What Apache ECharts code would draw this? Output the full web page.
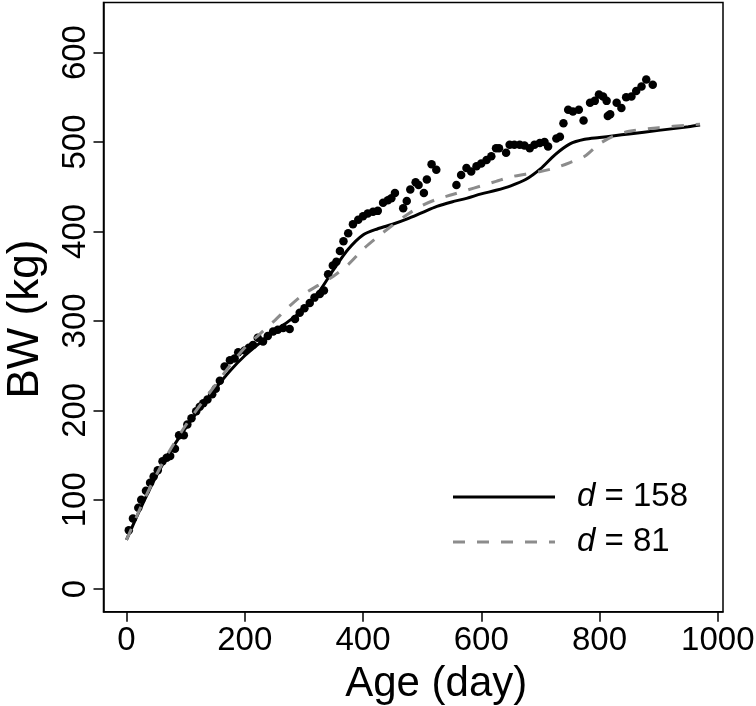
<!DOCTYPE html>
<html>
<head>
<meta charset="utf-8">
<script src="https://cdn.jsdelivr.net/npm/echarts@6/dist/echarts.min.js"></script>
<style>
html,body{margin:0;padding:0;background:#fff;}
#chart{width:756px;height:706px;}
</style>
</head>
<body>
<div id="chart"></div>
<script>
// Observed body weight points
const ageDays = [4,11,20,25,33,40,46,53,61,68,74,82,89,97,103,110,118,124,130,137,145,151,158,166,175,183,189,200,207,214,222,231,239,248,256,265,276,285,293,301,310,318,327,334,341,349,355,361,367,375,383,392,400,408,417,425,434,442,448,454,468,474,480,489,494,503,508,516,524,558,566,575,583,592,600,609,617,625,630,642,648,656,665,673,682,690,699,707,713,727,733,739,747,755,765,773,784,792,799,806,812,814,818,829,837,845,854,862,871,879,890];
const bw =      [66,79,91,100,110,119,126,133,143,147,149,157,172,172,184,191,199,204,208,212,218,224,233,249,256,258,265,267,270,273,281,277,283,288,290,292,291,302,309,314,320,326,330,334,352,362,366,378,389,398,408,413,417,420,422,423,432,435,437,443,426,434,447,455,452,443,458,475,469,452,463,471,467,473,476,480,484,493,493,488,497,497,497,496,493,497,499,500,495,504,506,521,536,534,536,524,544,546,553,551,546,529,531,544,538,550,551,557,562,570,564];
// Fitted curves
const curveAge = [0,10,25,50,75,100,125,150,175,200,225,250,275,300,325,350,375,400,425,450,475,500,525,550,575,600,625,650,675,700,725,750,775,800,825,850,900,950,970];
const fitD158 = [55,70,92,126,155,180,203,224,244,261,275,288,300,313,332,357,380,396,403,408,414,421,428,433,437,442,446,451,458,470,486,498,503,505,507,509,513,517,519];
const fitD81 =  [55,70,93,127,157,183,206,228,250,270,285,300,316,330,340,350,363,380,394,407,419,429,436,441,446,451,456,461,464,467,471,477,484,498,507,512,516,519,520];
const xTicks = [0,200,400,600,800,1000];
const yTicks = [0,100,200,300,400,500,600];
const legendNames = ['d = 158','d = 81'];

const zip = (a,b)=>a.map((v,i)=>[v,b[i]]);
const FONT = '"Liberation Sans", Arial, sans-serif';

const chart = echarts.init(document.getElementById('chart'), null, {renderer:'canvas'});
chart.setOption({
  animation:false,
  backgroundColor:'#fff',
  grid:{left:103.5,right:33,top:2.5,bottom:94.3,show:true,borderColor:'#000',borderWidth:1.5,backgroundColor:'transparent',
        containLabel:false,outerBoundsMode:'none'},
  xAxis:{
    type:'value',min:-38.8,max:1008.8,
    name:'Age (day)',nameLocation:'middle',nameGap:52,nameMoveOverlap:false,
    nameTextStyle:{fontFamily:FONT,fontSize:42,color:'#000',padding:[0,0,0,46]},
    axisLine:{show:true,onZero:false,lineStyle:{color:'#000',width:1.5}},
    splitLine:{show:false},
    axisTick:{show:true,inside:false,length:10,lineStyle:{color:'#000',width:1.5},customValues:xTicks},
    axisLabel:{fontFamily:FONT,fontSize:33,color:'#000',margin:13,customValues:xTicks,formatter:v=>String(v)}
  },
  yAxis:{
    type:'value',min:-25.2,max:656,
    name:'BW (kg)',nameLocation:'middle',nameGap:56,nameRotate:90,nameMoveOverlap:false,
    nameTextStyle:{fontFamily:FONT,fontSize:44,color:'#000',padding:[0,24,0,0]},
    axisLine:{show:true,onZero:false,lineStyle:{color:'#000',width:1.5}},
    splitLine:{show:false},
    axisTick:{show:true,inside:false,length:10,lineStyle:{color:'#000',width:1.5},customValues:yTicks},
    axisLabel:{fontFamily:FONT,fontSize:33,color:'#000',margin:11,rotate:90,customValues:yTicks,formatter:v=>String(v)}
  },
  graphic:[
    {type:'line',shape:{x1:453,y1:497,x2:555,y2:497},style:{stroke:'#000',lineWidth:3}},
    {type:'line',shape:{x1:453,y1:542,x2:555,y2:542},style:{stroke:'#8c8c8c',lineWidth:3,lineDash:[12,12]}},
    {type:'text',x:577,y:497,style:{text:'{i|d}{n|'+legendNames[0].slice(1)+'}',verticalAlign:'middle',
      rich:{i:{fontFamily:FONT,fontSize:33,fontStyle:'italic',fill:'#000'},n:{fontFamily:FONT,fontSize:33,fill:'#000'}}}},
    {type:'text',x:577,y:542,style:{text:'{i|d}{n|'+legendNames[1].slice(1)+'}',verticalAlign:'middle',
      rich:{i:{fontFamily:FONT,fontSize:33,fontStyle:'italic',fill:'#000'},n:{fontFamily:FONT,fontSize:33,fill:'#000'}}}}
  ],
  series:[
    {name:'obs',type:'scatter',data:zip(ageDays,bw),symbol:'circle',symbolSize:8.5,itemStyle:{color:'#000',opacity:1},z:2},
    {name:legendNames[0],type:'line',data:zip(curveAge,fitD158),symbol:'none',smooth:0.3,lineStyle:{color:'#000',width:3,type:'solid'},z:3},
    {name:legendNames[1],type:'line',data:zip(curveAge,fitD81),symbol:'none',smooth:0.3,lineStyle:{color:'#8c8c8c',width:3,type:[12,12]},z:4}
  ]
});
</script>
</body>
</html>
